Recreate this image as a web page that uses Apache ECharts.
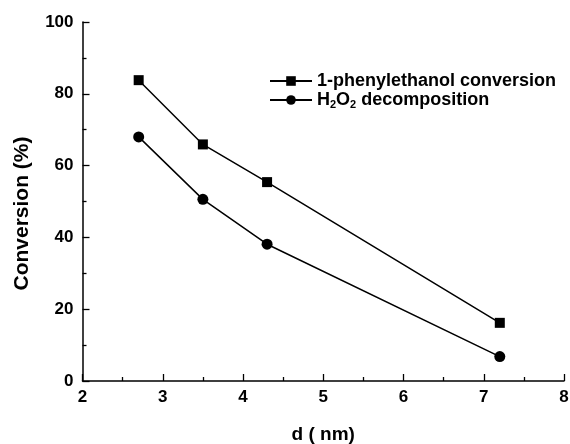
<!DOCTYPE html>
<html><head><meta charset="utf-8">
<script src="https://cdn.jsdelivr.net/npm/echarts@6/dist/echarts.min.js"></script>
<style>html,body{margin:0;padding:0;background:#fff}#c{width:570px;height:444px}</style>
</head><body><div id="c"></div>
<script>
const dValues = [2.7, 3.5, 4.3, 7.2];
const phenylethanolConversion = [83.8, 65.9, 55.4, 16.2];
const h2o2Decomposition = [68.0, 50.6, 38.1, 6.8];
const seriesNames = ['1-phenylethanol conversion', 'H2O2 decomposition'];
const xTicks = [2, 3, 4, 5, 6, 7, 8];
const yTicks = [0, 20, 40, 60, 80, 100];

const font = 'Liberation Sans, Arial, sans-serif';
const chart = echarts.init(document.getElementById('c'), null, {renderer: 'canvas'});
chart.setOption({
  animation: false,
  backgroundColor: '#fff',
  grid: {left: 82.5, right: 6, top: 22, bottom: 63, containLabel: false, outerBoundsMode: 'none'},
  legend: {
    left: 269, top: 72, orient: 'vertical', itemGap: 1, padding: 0,
    itemWidth: 42, itemHeight: 12,
    textStyle: {fontFamily: font, fontWeight: 'bold', fontSize: 18, color: '#000',
      rich: {
        n: {fontFamily: font, fontWeight: 'bold', fontSize: 18, color: '#000'},
        s: {fontFamily: font, fontWeight: 'bold', fontSize: 11, color: '#000', verticalAlign: 'bottom', padding: [9, 0, 0, 0]}
      }},
    formatter: function (name) {
      if (name === seriesNames[1]) return '{n|H}{s|2}{n|O}{s|2}{n| decomposition}';
      return '{n|' + name + '}';
    },
    data: seriesNames
  },
  xAxis: {
    type: 'value', min: xTicks[0], max: xTicks[xTicks.length - 1], interval: 1,
    name: 'd ( nm)', nameLocation: 'middle', nameGap: 44,
    nameTextStyle: {fontFamily: font, fontWeight: 'bold', fontSize: 19, color: '#000'},
    axisLine: {show: true, lineStyle: {color: '#000', width: 1.5}},
    axisTick: {show: true, inside: true, length: 7, lineStyle: {color: '#000', width: 1.3}},
    minorTick: {show: true, splitNumber: 2, length: 4, lineStyle: {color: '#000', width: 1.3}},
    axisLabel: {fontFamily: font, fontWeight: 'bold', fontSize: 17, color: '#000', margin: 8},
    splitLine: {show: false}
  },
  yAxis: {
    type: 'value', min: yTicks[0], max: yTicks[yTicks.length - 1], interval: 20,
    name: 'Conversion (%)', nameLocation: 'middle', nameGap: 50,
    nameTextStyle: {fontFamily: font, fontWeight: 'bold', fontSize: 21, color: '#000', padding: [0, 24, 0, 0]},
    axisLine: {show: true, lineStyle: {color: '#000', width: 1.5}},
    axisTick: {show: true, inside: true, length: 7, lineStyle: {color: '#000', width: 1.3}},
    minorTick: {show: true, splitNumber: 2, length: 4, lineStyle: {color: '#000', width: 1.3}},
    axisLabel: {fontFamily: font, fontWeight: 'bold', fontSize: 17, color: '#000', margin: 9},
    splitLine: {show: false}
  },
  series: [
    {
      name: seriesNames[0], type: 'line',
      data: dValues.map((d, i) => [d, phenylethanolConversion[i]]),
      symbol: 'rect', symbolSize: 10, showAllSymbol: true,
      lineStyle: {color: '#000', width: 1.5}, itemStyle: {color: '#000'}
    },
    {
      name: seriesNames[1], type: 'line',
      data: dValues.map((d, i) => [d, h2o2Decomposition[i]]),
      symbol: 'circle', symbolSize: 11, showAllSymbol: true,
      lineStyle: {color: '#000', width: 1.5}, itemStyle: {color: '#000'}
    }
  ]
});
</script></body></html>
